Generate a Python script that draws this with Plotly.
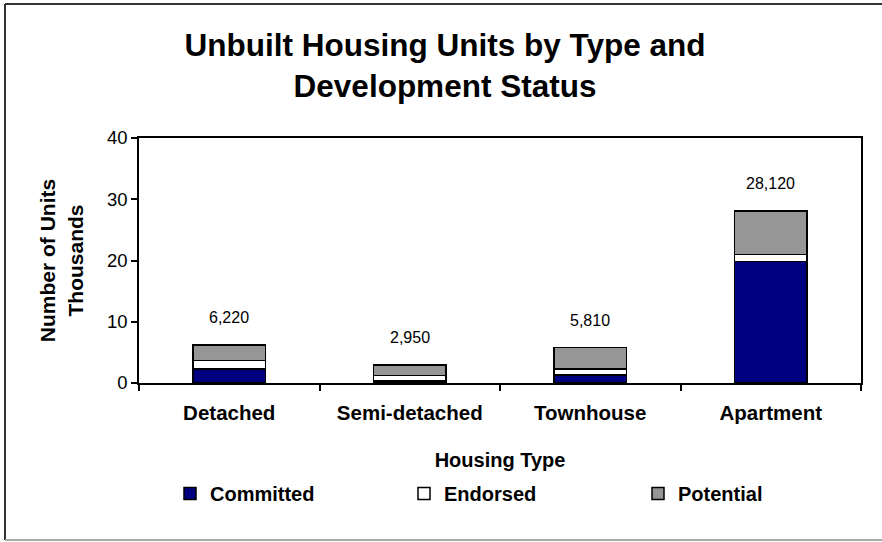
import plotly.graph_objects as go

categories = ["Detached", "Semi-detached", "Townhouse", "Apartment"]
committed = [2.30, 0.30, 1.30, 19.80]
endorsed = [1.35, 0.90, 0.95, 1.20]
potential = [2.57, 1.75, 3.56, 7.12]
totals = [6220, 2950, 5810, 28120]
y_ticks = [0, 10, 20, 30, 40]

FONT = "Liberation Sans, Arial, sans-serif"

# plot area in pixels
L, R, T, B = 139, 861, 138, 383
W, H = 882, 542

def px(x):
    return (x - L) / (R - L)

def py(y):
    return (B - y) / (B - T)

fig = go.Figure()
series = [("Committed", committed, "#000080"),
          ("Endorsed", endorsed, "#FFFFFF"),
          ("Potential", potential, "#969696")]
for name, vals, color in series:
    fig.add_trace(go.Bar(
        x=categories, y=vals, name=name, width=0.4,
        marker=dict(color=color, line=dict(color="#000000", width=1.5)),
        hoverinfo="x+y+name",
    ))

for cat, tot in zip(categories, totals):
    fig.add_annotation(x=cat, y=tot / 1000, text=f"{tot:,}", showarrow=False,
                       yanchor="middle", yshift=27,
                       font=dict(family=FONT, size=16, color="#000000"))

# outer chart frame
fig.add_shape(type="line", xref="paper", yref="paper",
              x0=px(5), x1=px(5), y0=py(4), y1=py(540),
              line=dict(color="#333333", width=2))
fig.add_shape(type="line", xref="paper", yref="paper",
              x0=px(5), x1=px(890), y0=py(4), y1=py(4),
              line=dict(color="#333333", width=2))
fig.add_shape(type="line", xref="paper", yref="paper",
              x0=px(5), x1=px(890), y0=py(540), y1=py(540),
              line=dict(color="#AAAAAA", width=2))

fig.update_layout(
    width=W, height=H,
    margin=dict(l=L, r=W - R, t=T, b=H - B, autoexpand=False),
    paper_bgcolor="white", plot_bgcolor="white",
    barmode="stack",
    title=dict(text="<b>Unbuilt Housing Units by Type and<br>Development Status</b>",
               x=445 / W, xanchor="center",
               y=1 - 56 / H, yanchor="top",
               font=dict(family=FONT, size=31.5, color="#000000")),
    showlegend=True,
    legend=dict(orientation="h", x=px(170), xanchor="left",
                y=py(474), yanchor="top",
                entrywidth=189, entrywidthmode="pixels",
                font=dict(family=FONT, size=20, color="#000000", weight="bold"),
                traceorder="normal", itemclick=False, itemdoubleclick=False),
    xaxis=dict(
        showline=True, linecolor="#000000", linewidth=1.5, mirror=True,
        ticks="outside", tickson="boundaries", ticklen=6, tickcolor="#000000", tickwidth=1.5,
        tickfont=dict(family=FONT, size=20.5, color="#000000", weight="bold"),
        ticklabelstandoff=11,
        title=dict(text="<b>Housing Type</b>", standoff=30,
                   font=dict(family=FONT, size=20, color="#000000")),
        showgrid=False, fixedrange=True,
    ),
    yaxis=dict(
        range=[0, 40], tickvals=y_ticks, ticktext=[str(v) for v in y_ticks],
        showline=True, linecolor="#000000", linewidth=1.5, mirror=True,
        ticks="outside", ticklen=6, tickcolor="#000000", tickwidth=1.5,
        tickfont=dict(family=FONT, size=18.5, color="#000000"),
        title=dict(text="<b>Number of Units<br>Thousands</b>", standoff=18,
                   font=dict(family=FONT, size=21, color="#000000")),
        showgrid=False, zeroline=False, fixedrange=True,
    ),
)

fig.write_html("out.html", config={"displayModeBar": False},
               post_script="document.body.style.margin='0';")
